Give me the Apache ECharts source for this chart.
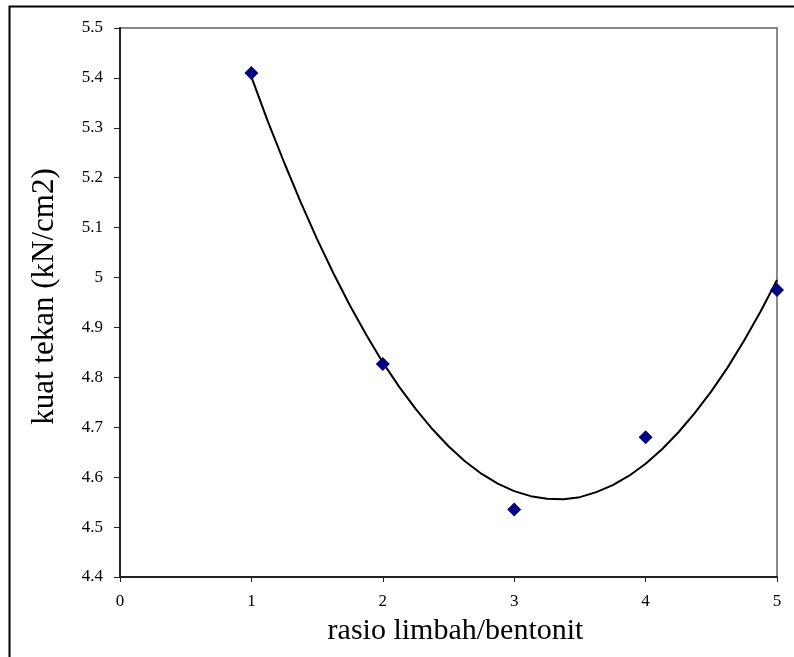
<!DOCTYPE html>
<html>
<head>
<meta charset="utf-8">
<script src="https://cdn.jsdelivr.net/npm/echarts@6/dist/echarts.min.js"></script>
<style>
html,body{margin:0;padding:0;background:#fff;}
#c{width:794px;height:657px;}
</style>
</head>
<body>
<div id="c"></div>
<script>
// Measured points
var ratioX = [1, 2, 3, 4, 5];
var strength = [5.41, 4.827, 4.535, 4.68, 4.975];
// Trend curve
var trendX = [1, 1.125, 1.25, 1.375, 1.5, 1.625, 1.75, 1.875, 2, 2.125, 2.25, 2.375, 2.5, 2.625, 2.75, 2.875, 3, 3.125, 3.25, 3.375, 3.5, 3.625, 3.75, 3.875, 4, 4.125, 4.25, 4.375, 4.5, 4.625, 4.75, 4.875, 5];
var trendY = [5.402, 5.313, 5.23, 5.151, 5.077, 5.008, 4.944, 4.885, 4.83, 4.781, 4.737, 4.697, 4.662, 4.632, 4.607, 4.587, 4.572, 4.562, 4.557, 4.556, 4.56, 4.57, 4.584, 4.603, 4.627, 4.656, 4.69, 4.729, 4.772, 4.82, 4.874, 4.932, 4.995];
var xTitle = 'rasio limbah/bentonit';
var yTitle = 'kuat tekan (kN/cm2)';

var chart = echarts.init(document.getElementById('c'), null, {renderer: 'canvas'});
var font = '"Liberation Serif", "Times New Roman", serif';
chart.setOption({
  animation: false,
  backgroundColor: '#fff',
  graphic: [{
    type: 'rect', left: 7, top: 4, z: 100, silent: true,
    shape: {width: 820, height: 700},
    style: {fill: 'none', stroke: '#000', lineWidth: 2}
  }],
  grid: {left: 120, top: 28, right: 17, bottom: 80, show: true, borderColor: '#888', borderWidth: 2, backgroundColor: '#fff'},
  xAxis: {
    type: 'value', min: 0, max: 5, interval: 1,
    name: xTitle, nameLocation: 'middle', nameGap: 39,
    nameTextStyle: {fontFamily: font, fontSize: 30, color: '#000', padding: [0, 0, 0, 14]},
    axisLine: {show: true, onZero: false, lineStyle: {color: '#222', width: 2}},
    axisTick: {show: true, inside: false, length: 5, lineStyle: {color: '#222', width: 1}},
    axisLabel: {fontFamily: font, fontSize: 17, color: '#000', margin: 16},
    splitLine: {show: false}
  },
  yAxis: {
    type: 'value', min: 4.4, max: 5.5, interval: 0.1,
    name: yTitle, nameLocation: 'middle', nameGap: 60,
    nameTextStyle: {fontFamily: font, fontSize: 31, color: '#000', padding: [0, 0, 0, 12]},
    axisLine: {show: true, onZero: false, lineStyle: {color: '#222', width: 2}},
    axisTick: {show: true, inside: false, length: 6, lineStyle: {color: '#222', width: 1}},
    axisLabel: {fontFamily: font, fontSize: 17, color: '#000', margin: 17,
      formatter: function (v) { return String(Math.round(v * 10) / 10); }},
    splitLine: {show: false}
  },
  series: [{
    type: 'line', smooth: false, showSymbol: false, symbol: 'none',
    data: trendX.map(function (x, i) { return [x, trendY[i]]; }),
    lineStyle: {color: '#000', width: 2}, z: 2
  }, {
    type: 'scatter', symbol: 'diamond', symbolSize: 14,
    data: ratioX.map(function (x, i) { return [x, strength[i]]; }),
    itemStyle: {color: '#000080', opacity: 1}, z: 3
  }]
});
</script>
</body>
</html>
